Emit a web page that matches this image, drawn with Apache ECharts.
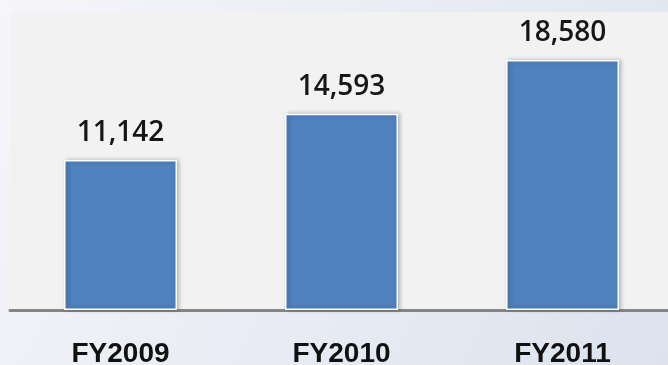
<!DOCTYPE html>
<html>
<head>
<meta charset="utf-8">
<style>
  html, body { margin: 0; padding: 0; }
  #chart { width: 668px; height: 365px; }
</style>
<script src="https://cdn.jsdelivr.net/npm/echarts@6/dist/echarts.min.js"></script>
</head>
<body>
<div id="chart"></div>
<script>
// Fiscal-year totals
const categories = ['FY2009', 'FY2010', 'FY2011'];
const values = [11142, 14593, 18580];

const chart = echarts.init(document.getElementById('chart'), null, { renderer: 'canvas' });

chart.setOption({
  animation: false,
  backgroundColor: new echarts.graphic.LinearGradient(0, 0, 1, 1, [
    { offset: 0, color: '#f6f6fa' },
    { offset: 0.5, color: '#e9ecf4' },
    { offset: 1, color: '#dce3ee' }
  ]),
  grid: {
    left: 10,
    width: 663,
    top: 12,
    bottom: 55,
    outerBoundsMode: 'none',
    containLabel: false,
    show: true,
    backgroundColor: '#f2f2f2',
    borderWidth: 0
  },
  xAxis: {
    type: 'category',
    data: categories,
    axisLine: { show: true, lineStyle: { color: '#858585', width: 3 } },
    axisTick: { show: false },
    axisLabel: {
      margin: 30,
      fontFamily: 'Liberation Sans, Arial, sans-serif',
      fontWeight: 'bold',
      fontSize: 28,
      color: '#111111'
    }
  },
  yAxis: {
    type: 'value',
    min: 0,
    max: 22147,
    show: false,
    splitLine: { show: false }
  },
  series: [{
    type: 'bar',
    data: values,
    barWidth: 113,
    itemStyle: {
      color: '#4f81bd',
      borderColor: '#ffffff',
      borderWidth: 1.5,
      shadowColor: 'rgba(0,0,0,0.25)',
      shadowBlur: 4,
      shadowOffsetX: 2,
      shadowOffsetY: 0
    },
    label: {
      show: true,
      position: 'top',
      distance: 13,
      fontFamily: 'Open Sans, Liberation Sans, sans-serif',
      fontWeight: 600,
      fontSize: 28,
      color: '#161616',
      formatter: p => p.value.toLocaleString('en-US')
    }
  }]
});
</script>
</body>
</html>
